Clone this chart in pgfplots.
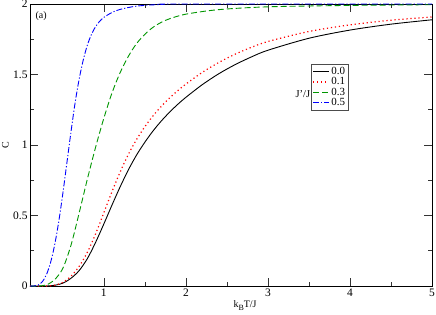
\documentclass[border=0pt]{standalone}
\usepackage{fontspec}
\setmainfont{Liberation Serif}
\usepackage{pgfplots}
\pgfplotsset{compat=1.18}
\definecolor{grn}{RGB}{0,150,0}
\begin{document}
\begin{tikzpicture}[x=1bp,y=1bp]
\begin{axis}[
  at={(0,0)}, anchor=south west,
  scale only axis,
  width=402bp, height=282bp,
  xmin=0.1, xmax=5, ymin=0, ymax=2,
  xtick={1,2,3,4,5}, ytick={0,0.5,1,1.5,2},
  minor x tick num=1, minor y tick num=1,
  tick align=inside,
  major tick length=8bp, minor tick length=4.5bp,
  tick style={black!80, line width=0.6pt},
  axis line style={line width=0.7pt},
  /pgf/number format/assume math mode=true,
  ticklabel style={font=\fontsize{11.5}{12}\selectfont},
  xticklabel style={yshift=1bp},
  yticklabel style={xshift=1bp},
  xlabel={k\raisebox{-3bp}{\fontsize{8}{9}\selectfont B}T/J},
  ylabel={C},
  label style={font=\fontsize{10}{11}\selectfont},
  x label style={at={(axis description cs:0.535,-0.04)}, anchor=north},
  y label style={at={(axis description cs:-0.05,0.5)}, anchor=south, inner sep=1pt},
  legend style={at={(axis description cs:0.70,0.787)}, anchor=north west,
    font=\fontsize{11}{11}\selectfont, draw=black!70, line width=0.6pt,
    inner sep=1pt, row sep=-2.5pt},
  legend cell align=left,
  legend image code/.code={\draw[#1] (0cm,0cm) -- (0.55cm,0cm);},
]
\addplot[black, line width=0.9pt, smooth] coordinates {
(0.1,0) (0.3,0.0) (0.4,0.005) (0.5,0.02) (0.6,0.055) (0.7,0.11) (0.8,0.195) (0.9,0.31) (1.0,0.44) (1.1,0.575) (1.2,0.705) (1.3,0.825) (1.4,0.93) (1.5,1.02) (1.6,1.10) (1.7,1.17) (1.8,1.232) (1.9,1.288) (2.0,1.338) (2.2,1.428) (2.4,1.505) (2.6,1.570) (2.8,1.625) (3.0,1.672) (3.5,1.757) (4.0,1.815) (4.5,1.857) (5.0,1.888)};
\addlegendentry{0.0}
\addplot[red, line width=1.2pt, dash pattern=on 1.2bp off 2.8bp, smooth] coordinates {
(0.1,0) (0.3,0.0) (0.4,0.006) (0.5,0.025) (0.6,0.07) (0.7,0.14) (0.8,0.24) (0.9,0.37) (1.0,0.52) (1.1,0.67) (1.2,0.81) (1.3,0.935) (1.4,1.04) (1.5,1.13) (1.6,1.207) (1.7,1.274) (1.8,1.333) (1.9,1.385) (2.0,1.432) (2.2,1.515) (2.4,1.585) (2.6,1.644) (2.8,1.693) (3.0,1.734) (3.5,1.805) (4.0,1.852) (4.5,1.885) (5.0,1.908)};
\addlegendentry{0.1}
\addplot[grn, line width=0.9pt, dash pattern=on 6bp off 3bp, smooth] coordinates {
(0.1,0) (0.2,0.0) (0.3,0.008) (0.4,0.045) (0.5,0.125) (0.6,0.29) (0.7,0.52) (0.8,0.76) (0.9,0.985) (1.0,1.19) (1.1,1.37) (1.2,1.515) (1.3,1.63) (1.4,1.72) (1.5,1.785) (1.6,1.835) (1.7,1.87) (1.8,1.895) (2.0,1.928) (2.4,1.96) (3.0,1.98) (4.0,1.99) (5.0,1.995)};
\addlegendentry{0.3}
\addplot[blue, line width=0.9pt, dash pattern=on 6bp off 2bp on 1.2bp off 2bp, smooth] coordinates {
(0.1,0) (0.15,0) (0.2,0.007) (0.25,0.03) (0.3,0.08) (0.35,0.165) (0.4,0.29) (0.45,0.455) (0.5,0.655) (0.55,0.875) (0.6,1.095) (0.65,1.30) (0.7,1.47) (0.75,1.605) (0.8,1.71) (0.85,1.785) (0.9,1.84) (0.95,1.878) (1.0,1.905) (1.1,1.94) (1.2,1.962) (1.4,1.985) (1.7,1.997) (2.0,2.0) (5.0,2.0)};
\addlegendentry{0.5}
\node[anchor=north west, font=\fontsize{10}{11}\selectfont] at (axis description cs:0.005,0.985) {(a)};
\node[anchor=east, font=\fontsize{10.5}{11}\selectfont, inner sep=1pt] at (axis description cs:0.70,0.682) {J'/J};
\end{axis}
\pgfresetboundingbox
\useasboundingbox (-30,-28) rectangle (406,286);
\end{tikzpicture}
\end{document}
